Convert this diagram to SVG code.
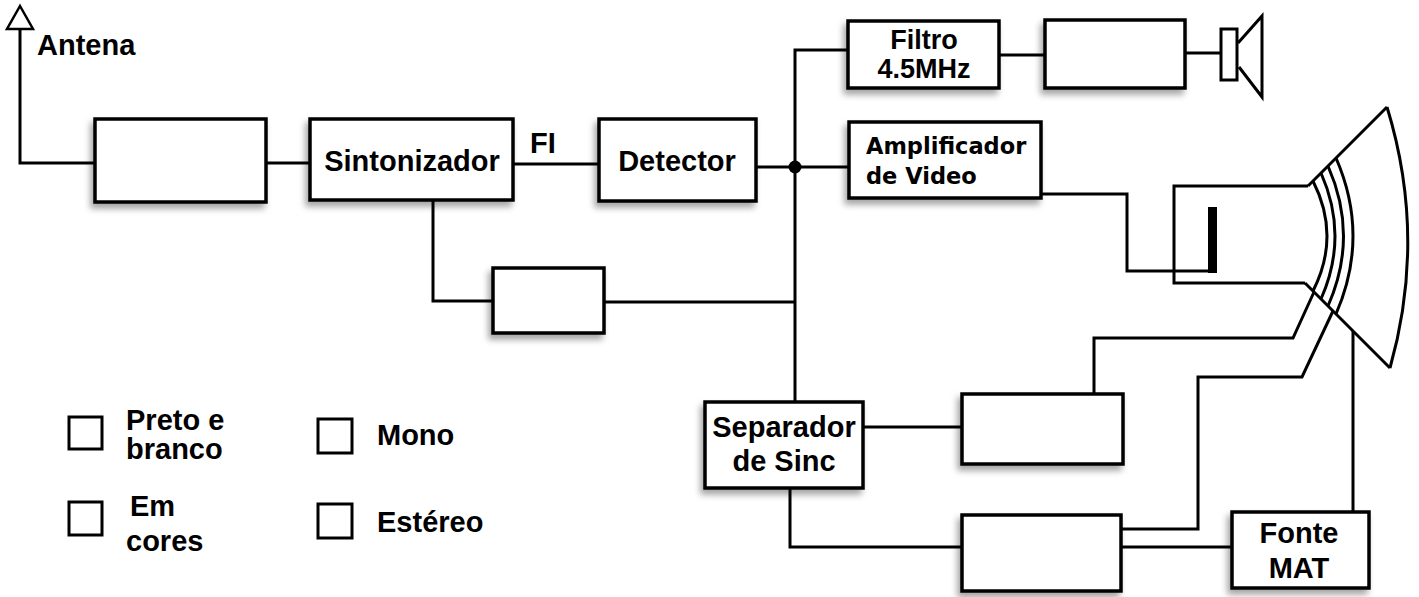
<svg xmlns="http://www.w3.org/2000/svg" width="1419" height="597" viewBox="0 0 1419 597">
<defs>
<filter id="sh" x="-20%" y="-20%" width="140%" height="150%">
<feDropShadow dx="-3" dy="5" stdDeviation="3" flood-color="#000" flood-opacity="0.35"/>
</filter>
</defs>
<style>
.box{fill:#fff;stroke:#000;stroke-width:3.5;filter:url(#sh)}
.cb{fill:#fff;stroke:#000;stroke-width:3}
.ln{fill:none;stroke:#000;stroke-width:3;stroke-linejoin:miter}
.t{font-family:"Liberation Sans",Arial,sans-serif;font-weight:bold;font-size:29px;fill:#000}
.s{font-size:27px}
.c{text-anchor:middle}
.v{font-family:"DejaVu Sans",Verdana,sans-serif;font-weight:bold;font-size:22.5px;fill:#000}
</style>
<rect width="1419" height="597" fill="#fff"/>

<g id="connectors">
<polyline class="ln" points="20,29 20,163 95,163"/>
<line class="ln" x1="266" y1="163" x2="310" y2="163"/>
<line class="ln" x1="513" y1="164" x2="599" y2="164"/>
<line class="ln" x1="756" y1="167" x2="849" y2="167"/>
<polyline class="ln" points="848,50 795,50 795,402"/>
<line class="ln" x1="999" y1="55" x2="1045" y2="55"/>
<line class="ln" x1="1185" y1="53" x2="1221" y2="53"/>
<polyline class="ln" points="433,201 433,301 493,301"/>
<line class="ln" x1="604" y1="302" x2="795" y2="302"/>
<polyline class="ln" points="1041,194 1127,194 1127,271 1212,271"/>
<line class="ln" x1="863" y1="427" x2="962" y2="427"/>
<polyline class="ln" points="790,488 790,547 962,547"/>
<polyline class="ln" points="1094,394 1094,338 1293,338 1314,292"/>
<polyline class="ln" points="1121,529 1198,529 1198,377 1302,377 1333,311"/>
<line class="ln" x1="1121" y1="547" x2="1232" y2="547"/>
<line class="ln" x1="1353" y1="512" x2="1353" y2="331"/>
<circle cx="795" cy="167" r="6.5" fill="#000"/>
</g>

<g id="antenna">
<polygon points="20,6 33,29 7,29" fill="#fff" stroke="#000" stroke-width="2.5"/>
<text class="t" x="37" y="55">Antena</text>
</g>

<g id="box-rf"><rect class="box" x="95" y="119" width="171" height="83"/></g>

<g id="sintonizador">
<rect class="box" x="310" y="119" width="203" height="81"/>
<text class="t c" x="412" y="171">Sintonizador</text>
</g>

<text id="fi-label" class="t" x="530" y="153">FI</text>

<g id="detector">
<rect class="box" x="599" y="119" width="157" height="82"/>
<text class="t c" x="677" y="171">Detector</text>
</g>

<g id="filtro">
<rect class="box" x="848" y="21" width="151" height="67"/>
<text class="t s c" x="924" y="49">Filtro</text>
<text class="t s c" x="924" y="78">4.5MHz</text>
</g>

<g id="box-audio"><rect class="box" x="1045" y="20" width="140" height="68"/></g>

<g id="speaker">
<rect x="1221" y="29" width="16" height="51" fill="#fff" stroke="#000" stroke-width="3"/>
<polyline points="1238,43 1262,16 1262,97 1239,67" fill="none" stroke="#000" stroke-width="3" stroke-linejoin="miter"/>
</g>

<g id="amplificador">
<rect class="box" x="849" y="122" width="192" height="76"/>
<text class="v" x="866" y="154">Amplificador</text>
<text class="v" x="866" y="184">de Video</text>
</g>

<g id="box-agc"><rect class="box" x="493" y="268" width="111" height="65"/></g>

<g id="separador">
<rect class="box" x="705" y="402" width="158" height="86"/>
<text class="t c" x="784" y="437">Separador</text>
<text class="t c" x="784" y="471">de Sinc</text>
</g>

<g id="box-vert"><rect class="box" x="962" y="394" width="161" height="70"/></g>

<g id="box-horiz"><rect class="box" x="962" y="515" width="159" height="76"/></g>

<g id="fonte-mat">
<rect class="box" x="1232" y="512" width="137" height="76"/>
<text class="t c" x="1299" y="543">Fonte</text>
<text class="t c" x="1299" y="578">MAT</text>
</g>

<g id="crt" fill="none" stroke="#000" stroke-width="3">
<polyline points="1308,186 1174,186 1174,283 1305,283"/>
<rect x="1208" y="207" width="9" height="66" fill="#000" stroke="none"/>
<line x1="1308" y1="186" x2="1387" y2="107"/>
<line x1="1305" y1="283" x2="1390" y2="368"/>
<path d="M1387,107 Q1427,237 1390,368"/>
<path d="M1313,181 Q1341,236 1313,291"/>
<path d="M1321,173 Q1349,236 1321,299"/>
<path d="M1328,166 Q1359,236 1328,306"/>
<path d="M1336,158 Q1370,236 1336,314"/>
</g>

<g id="legend">
<rect class="cb" x="69" y="417" width="33" height="32"/>
<text class="t" x="126" y="430">Preto e</text>
<text class="t" x="126" y="459">branco</text>
<rect class="cb" x="69" y="502" width="33" height="33"/>
<text class="t" x="130" y="516">Em</text>
<text class="t" x="126" y="551">cores</text>
<rect class="cb" x="318" y="419" width="34" height="34"/>
<text class="t" x="377" y="445">Mono</text>
<rect class="cb" x="318" y="504" width="34" height="34"/>
<text class="t" x="377" y="532">Estéreo</text>
</g>
</svg>
